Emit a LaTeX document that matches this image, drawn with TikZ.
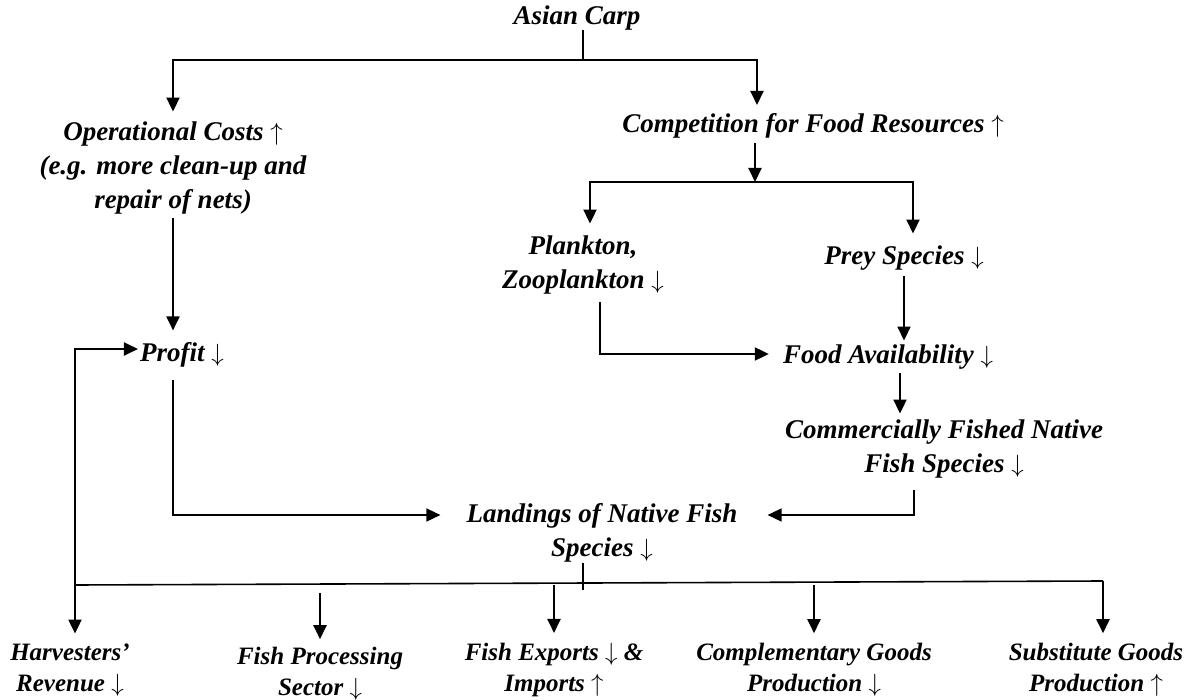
\documentclass[tikz,border=0pt]{standalone}
\usepackage{fontspec}
\setmainfont{Liberation Serif}
\usetikzlibrary{arrows.meta, positioning}

\newcommand{\arrdn}{~$\downarrow$}
\newcommand{\arrup}{~$\uparrow$}

\begin{document}
\begin{tikzpicture}[x=1pt, y=-1pt,
  lbl/.style={font=\fontsize{27}{34}\selectfont\bfseries\itshape, align=center, inner sep=0pt},
  sector/.style={font=\fontsize{25}{31}\selectfont\bfseries\itshape, align=center, inner sep=0pt},
  arrow/.style={-{Triangle[length=14pt, width=13pt]}, line width=2pt},
  link/.style={line width=1.6pt},
  tick/.style={line width=1.2pt},
]
  \useasboundingbox (0,0) rectangle (1204,700);

  % effects, top to bottom
  \node[lbl] (carp)   at (577,18)  {Asian Carp};
  \node[lbl] (opcost) at (173,168) {Operational Costs\arrup\\(e.g. more clean-up and\\repair of nets)};
  \node[lbl] (comp)   at (813,126) {Competition for Food Resources\arrup};
  \node[lbl] (plank)  at (583,265) {Plankton,\\Zooplankton\arrdn};
  \node[lbl] (prey)   at (904,258) {Prey Species\arrdn};
  \node[lbl] (profit) at (182,355) {Profit\arrdn};
  \node[lbl] (food)   at (888,357) {Food Availability\arrdn};
  \node[lbl] (native) at (944,449) {Commercially Fished Native\\Fish Species\arrdn};
  \node[lbl] (land)   at (602,533) {Landings of Native Fish\\Species\arrdn};

  % sectors hit by the landings
  \node[sector] (harv)  at (70,670)   {Harvesters'\\Revenue\arrdn};
  \node[sector] (proc)  at (320,674)  {Fish Processing\\Sector\arrdn};
  \node[sector] (exp)   at (554,670)  {Fish Exports\arrdn{} \&\\Imports\arrup};
  \node[sector] (compl) at (814,670)  {Complementary Goods\\Production\arrdn};
  \node[sector] (subst) at (1096,670) {Substitute Goods\\Production\arrup};

  \coordinate (s1) at (583,60);
  \coordinate (c1) at (757,105);
  \coordinate (s2) at (755,182);
  \coordinate (bl) at (75,585);
  \coordinate (br) at (1103,581);
  \coordinate (b0) at (583,590);

  \draw[tick] (s1 |- carp.south) -- (s1);
  \draw[arrow, shorten >=10pt] (s1) -| (opcost.north);
  \draw[arrow] (s1) -| (c1);
  \draw[arrow, shorten <=4pt, shorten >=12pt] (opcost.south) -- (opcost.south |- profit.north);

  \draw[arrow, shorten <=4pt] (s2 |- comp.south) -- (s2);
  \draw[arrow, shorten >=12pt] (s2) -| ([xshift=7pt]plank.north);
  \draw[arrow, shorten >=12pt] (s2) -| ([xshift=9pt]prey.north);
  \draw[arrow, shorten <=6pt, shorten >=4pt] (prey.south) -- (prey.south |- food.north);
  \draw[arrow, shorten <=8pt, shorten >=14pt] ([xshift=17pt]plank.south) |- ([yshift=3pt]food.west);
  \draw[arrow, shorten <=4pt, shorten >=6pt] ([xshift=12pt]food.south) -- ([xshift=12pt]food.south |- native.north);

  \draw[link, shorten <=12pt, shorten >=26pt, -{Triangle[length=14pt, width=13pt]}] (profit.south -| opcost.south) |- ([yshift=18pt]land.west);
  \draw[link, shorten <=12pt, shorten >=30pt, -{Triangle[length=14pt, width=13pt]}] ([xshift=-30pt]native.south) |- ([yshift=18pt]land.east);

  % landings spread to the sectors
  \draw[tick] (b0 |- land.south) -- (b0);
  \draw[link] (bl) -- (br);
  \draw[arrow, shorten >=2pt] (bl) |- ([yshift=6pt]profit.west);
  \draw[arrow, shorten >=10pt] (bl) -- (bl |- harv.north);
  \foreach \n in {exp, compl}
    \draw[arrow, shorten >=10pt] (\n.north |- bl) -- (\n.north);
  \draw[arrow, shorten >=10pt] (br) -- (br |- subst.north);
  \draw[arrow, shorten <=8pt, shorten >=8pt] (proc.north |- bl) -- (proc.north);
\end{tikzpicture}
\end{document}
